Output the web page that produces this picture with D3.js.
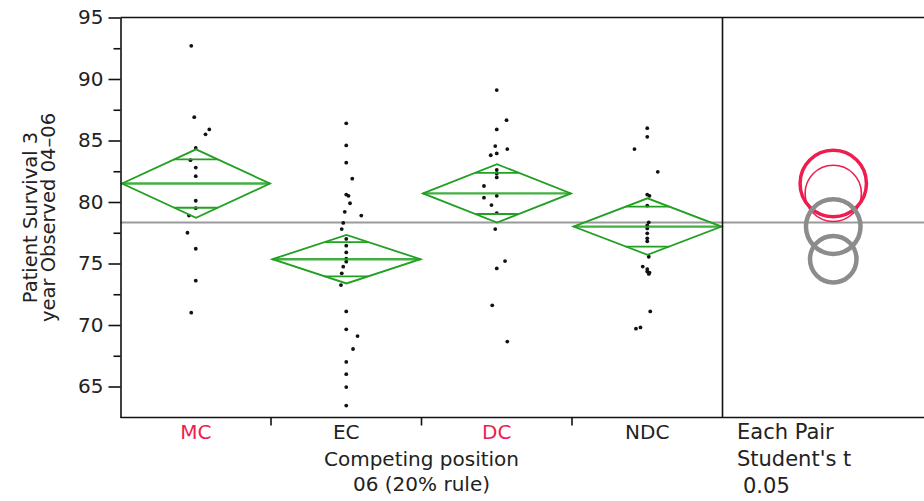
<!DOCTYPE html>
<html>
<head>
<meta charset="utf-8">
<script src="https://d3js.org/d3.v7.min.js"></script>
<style>
  body { margin: 0; background: #fff; }
  text { font-family: "DejaVu Sans", sans-serif; }
</style>
</head>
<body>
<script>
// groups along the x axis, the red ones are the "not different from MC" ones
var groups = ["MC", "EC", "DC", "NDC"];
var redGroups = ["MC", "DC"];

// patient survival per centre
var mcValues = [92.7, 86.9, 85.9, 85.5, 84.4, 83.4, 82.8, 82.1, 80.1, 79.5, 78.9, 77.5, 76.2, 73.6, 71.0];
var ecValues = [86.4, 84.6, 83.2, 81.9, 80.6, 80.5, 79.9, 79.2, 78.9, 78.3, 77.8, 77.0, 76.45, 75.9, 75.4,
                75.15, 74.74, 74.2, 73.25, 71.1, 69.65, 69.1, 68.05, 67.0, 66.0, 64.95, 63.45];
var dcValues = [89.1, 86.65, 85.9, 84.55, 84.3, 83.95, 83.8, 82.6, 82.3, 82.0, 81.3, 80.35, 80.5, 79.75,
                79.1, 77.8, 75.2, 74.6, 71.6, 68.65];
var ndcValues = [86.0, 85.3, 84.3, 82.45, 80.6, 80.5, 79.7, 78.35, 78.1, 77.85, 77.45, 77.05, 76.8, 75.55,
                 74.75, 74.55, 74.35, 74.15, 74.25, 71.1, 69.7, 69.8];

// horizontal jitter of each dot, as a fraction of the group width
var mcJitter = [-0.03, -0.01, 0.09, 0.065, 0, -0.035, 0, 0, 0, 0, -0.045, -0.055, 0, 0, -0.03];
var ecJitter = [0, 0, 0, 0.04, 0, 0.015, 0.025, -0.01, 0.1, -0.02, -0.03, 0, 0, 0, 0, 0, -0.02, -0.03,
                -0.035, 0, 0, 0.075, 0.045, 0, 0, 0, 0];
var dcJitter = [0, 0.065, 0, -0.01, 0.07, 0, -0.04, 0, 0, 0, -0.085, -0.085, 0, -0.035, 0, -0.01, 0.055,
                0, -0.03, 0.07];
var ndcJitter = [0, 0, -0.085, 0.07, 0, 0.015, 0, 0.01, 0, 0, 0, 0, 0, 0.01, -0.03, 0, 0, 0.01, 0.015,
                 0.02, -0.075, -0.045];

// means diamonds: group mean and half width of the 95% interval
var groupMeans = [81.5, 75.35, 80.7, 78.0];
var ciHalf = [2.78, 1.97, 2.37, 2.3];
var grandMean = 78.33;

var yTicks = [65, 70, 75, 80, 85, 90, 95];
var yMinorTicks = [67.5, 72.5, 77.5, 82.5, 87.5, 92.5];

var red = "#ee1d4f",
  green = "#22a022",
  grey = "#8c8c8c";

var W = 924, H = 501,
  plotLeft = 120.5, plotRight = 722.5, panelRight = 944,
  plotTop = 17.5, plotBottom = 417.5;

var allValues = [mcValues, ecValues, dcValues, ndcValues];
var allJitter = [mcJitter, ecJitter, dcJitter, ndcJitter];

var svg = d3.select("body").append("svg")
  .attr("width", W)
  .attr("height", H);

var xScale = d3.scaleBand()
  .domain(groups)
  .range([plotLeft, plotRight]);

var yScale = d3.scaleLinear()
  .domain([62.48, 95])
  .range([plotBottom, plotTop]);

// grand mean line, runs through the comparison panel as well
svg.append("line")
  .attr("x1", plotLeft).attr("x2", W)
  .attr("y1", yScale(grandMean)).attr("y2", yScale(grandMean))
  .attr("stroke", "#9a9a9a")
  .attr("stroke-width", 2);

// dots
var points = [];
groups.forEach(function(g, i) {
  allValues[i].forEach(function(v, j) {
    points.push({group: g, value: v, jit: allJitter[i][j]});
  });
});

svg.selectAll("circle.dot")
  .data(points)
  .enter()
  .append("circle")
  .attr("class", "dot")
  .attr("cx", function(d) {
    return xScale(d.group) + xScale.bandwidth() * (0.5 + d.jit);
  })
  .attr("cy", function(d) { return yScale(d.value); })
  .attr("r", 1.9)
  .attr("fill", "#111");

// means diamonds with overlap marks
groups.forEach(function(g, i) {
  var x0 = xScale(g) + 1.5,
    x1 = xScale(g) + xScale.bandwidth() - 1,
    xm = (x0 + x1) / 2,
    half = (x1 - x0) / 2,
    m = groupMeans[i],
    ci = ciHalf[i];

  var gd = svg.append("g")
    .attr("fill", "none")
    .attr("stroke", green)
    .attr("stroke-width", 1.8);

  gd.append("path")
    .attr("d", "M" + x0 + "," + yScale(m) +
               "L" + xm + "," + yScale(m + ci) +
               "L" + x1 + "," + yScale(m) +
               "L" + xm + "," + yScale(m - ci) + "Z");

  gd.append("line")
    .attr("x1", x0).attr("x2", x1)
    .attr("y1", yScale(m)).attr("y2", yScale(m))
    .attr("stroke-width", 2.4)
    .attr("stroke-opacity", 0.85);

  // overlap marks sit at mean +- ci / sqrt(2)
  var off = ci / Math.SQRT2,
    w = half * (1 - off / ci);
  [m + off, m - off].forEach(function(v) {
    gd.append("line")
      .attr("x1", xm - w).attr("x2", xm + w)
      .attr("y1", yScale(v)).attr("y2", yScale(v));
  });
});

// comparison circles
var cx = (plotRight + panelRight) / 2;
var pxPerUnit = yScale(0) - yScale(1);
var order = [0, 2, 3, 1];
order.forEach(function(i) {
  var g = groups[i];
  var isRed = redGroups.indexOf(g) >= 0;
  svg.append("circle")
    .attr("cx", cx)
    .attr("cy", yScale(groupMeans[i]))
    .attr("r", ciHalf[i] * pxPerUnit - 1)
    .attr("fill", "none")
    .attr("stroke", isRed ? red : grey)
    .attr("stroke-width", g == "MC" ? 3.5 : (isRed ? 1.6 : 4.5));
});

// frame
var frame = svg.append("g").attr("stroke", "#111").attr("stroke-width", 1.6);
frame.append("line").attr("x1", plotLeft).attr("x2", W).attr("y1", plotTop).attr("y2", plotTop);
frame.append("line").attr("x1", plotLeft).attr("x2", W).attr("y1", plotBottom).attr("y2", plotBottom);
frame.append("line").attr("x1", plotRight).attr("x2", plotRight).attr("y1", plotTop).attr("y2", plotBottom);

// y axis
var yAxis = d3.axisLeft(yScale)
  .tickValues(yTicks)
  .tickSize(12)
  .tickSizeOuter(0)
  .tickPadding(5);

var gy = svg.append("g")
  .attr("class", "y axis")
  .attr("transform", "translate(" + plotLeft + ",0)")
  .call(yAxis);

gy.append("g")
  .call(d3.axisLeft(yScale).tickValues(yMinorTicks).tickSize(7).tickFormat(""))
  .select(".domain").remove();

gy.selectAll("path, line").attr("stroke", "#111").attr("stroke-width", 1.6);
gy.selectAll("text")
  .attr("fill", "#222")
  .style("font-size", "20px")
  .style("font-family", "DejaVu Sans");

// x axis labels and ticks between groups
var xAxis = d3.axisBottom(xScale).tickSize(0).tickPadding(7);
var gx = svg.append("g")
  .attr("class", "x axis")
  .attr("transform", "translate(0," + plotBottom + ")")
  .call(xAxis);
gx.select(".domain").remove();
gx.selectAll("text")
  .style("font-size", "20px")
  .style("font-family", "DejaVu Sans")
  .attr("fill", function(d) { return redGroups.indexOf(d) >= 0 ? red : "#222"; });

svg.selectAll("line.sep")
  .data(groups.slice(1))
  .enter()
  .append("line")
  .attr("class", "sep")
  .attr("x1", function(d) { return xScale(d); })
  .attr("x2", function(d) { return xScale(d); })
  .attr("y1", plotBottom)
  .attr("y2", plotBottom + 8)
  .attr("stroke", "#111")
  .attr("stroke-width", 1.6);

// axis titles
var xMid = (plotLeft + plotRight) / 2;
svg.append("text")
  .attr("x", xMid).attr("y", 466)
  .attr("text-anchor", "middle")
  .attr("fill", "#222")
  .style("font-size", "20px")
  .text("Competing position");
svg.append("text")
  .attr("x", xMid).attr("y", 491)
  .attr("text-anchor", "middle")
  .attr("fill", "#222")
  .style("font-size", "20px")
  .text("06 (20% rule)");

var yMid = (plotTop + plotBottom) / 2;
svg.append("text")
  .attr("transform", "translate(37," + yMid + ") rotate(-90)")
  .attr("text-anchor", "middle")
  .attr("fill", "#222")
  .style("font-size", "19.5px")
  .text("Patient Survival 3");
svg.append("text")
  .attr("transform", "translate(55," + yMid + ") rotate(-90)")
  .attr("text-anchor", "middle")
  .attr("fill", "#222")
  .style("font-size", "19.5px")
  .text("year Observed 04\u201306");

// comparison panel caption
var caption = ["Each Pair", "Student's t", "0.05"];
svg.selectAll("text.caption")
  .data(caption)
  .enter()
  .append("text")
  .attr("class", "caption")
  .attr("x", function(d, i) { return i == 2 ? 743 : 737; })
  .attr("y", function(d, i) { return 439 + i * 27; })
  .attr("fill", "#222")
  .style("font-size", "21px")
  .text(function(d) { return d; });
</script>
</body>
</html>
